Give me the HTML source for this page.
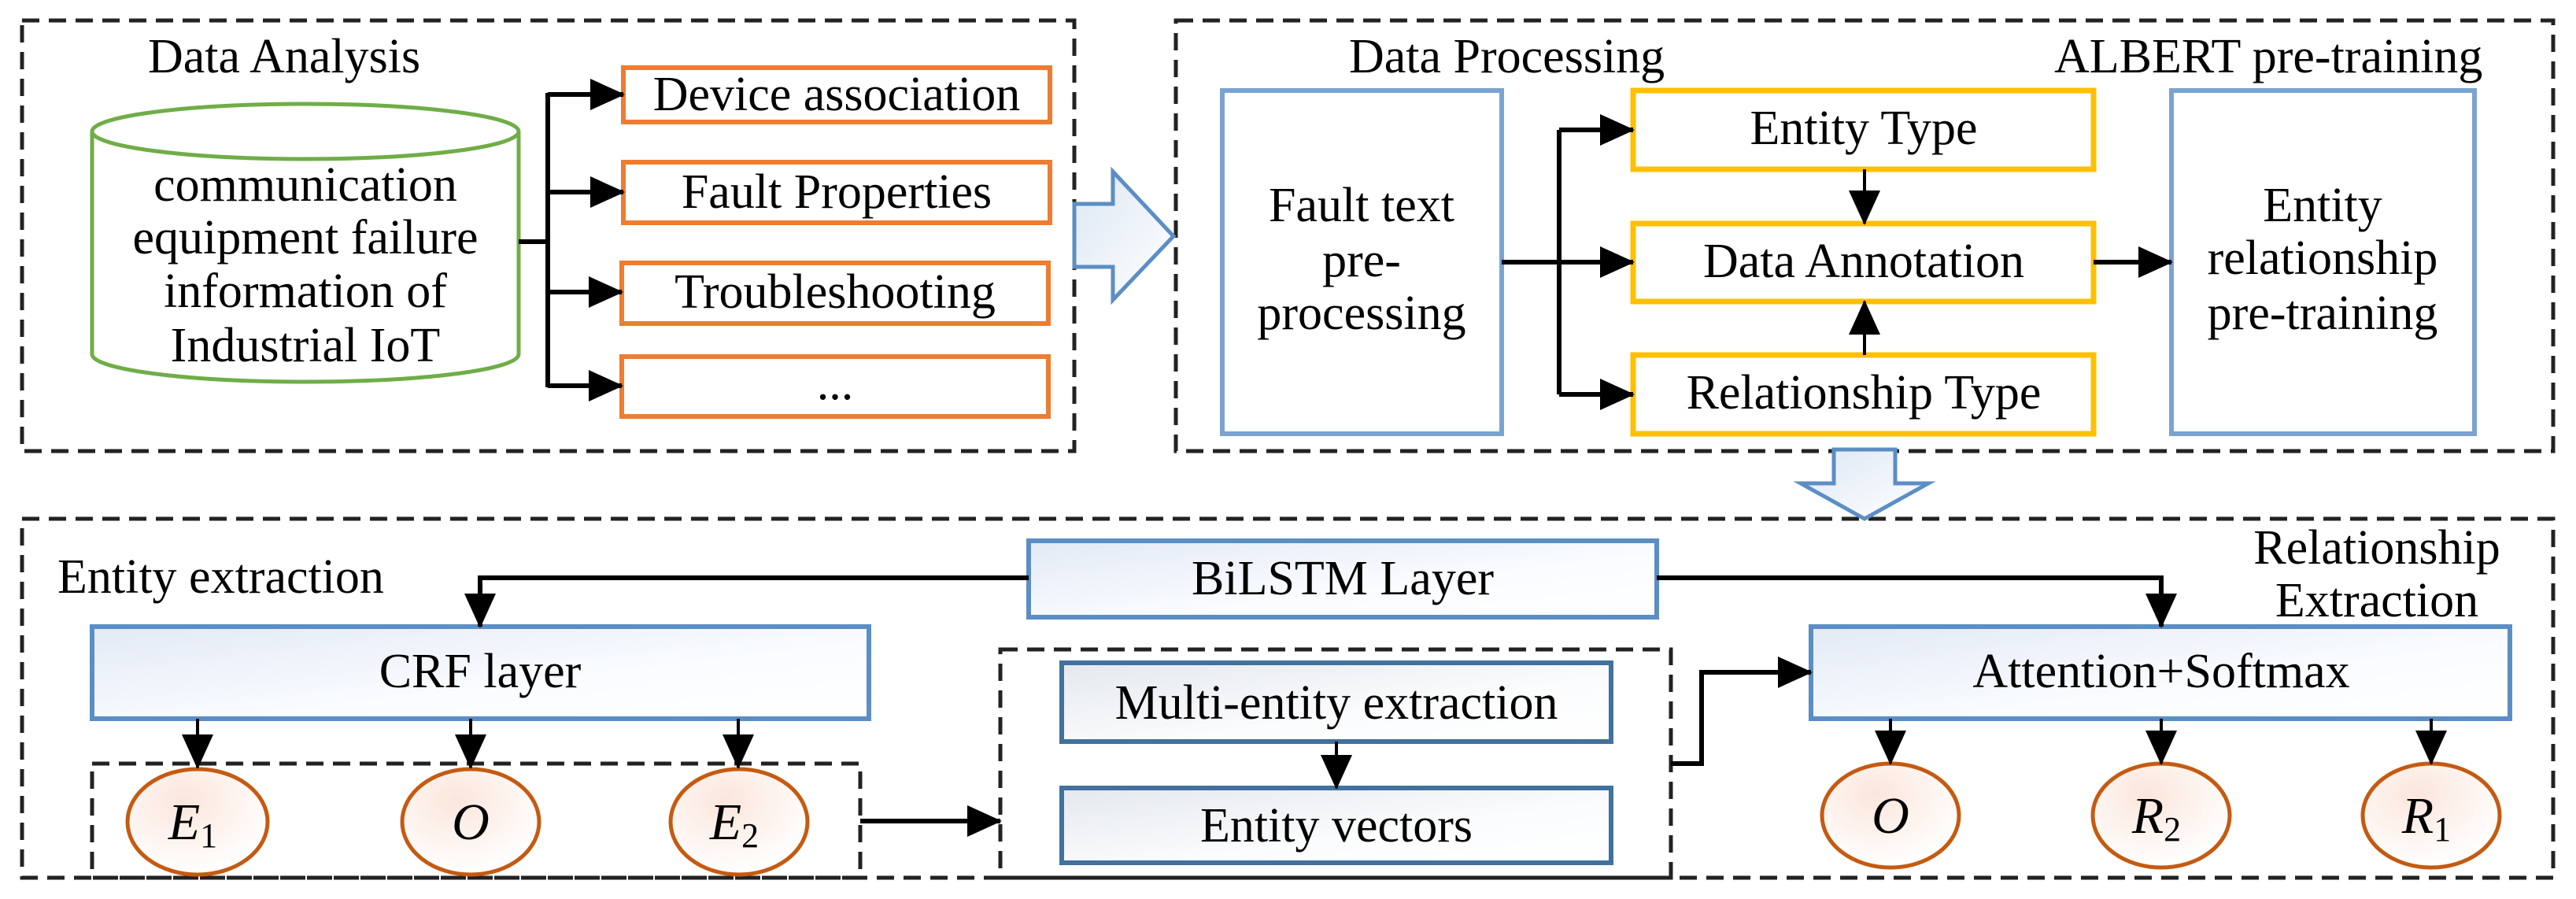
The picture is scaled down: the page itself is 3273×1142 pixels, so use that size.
<!DOCTYPE html>
<html><head><meta charset="utf-8"><style>
html,body{margin:0;padding:0;background:#fff}
svg{display:block}
svg text{font-family:"Liberation Serif","Times New Roman","DejaVu Serif",serif;fill:#000}
</style></head><body>
<svg width="3273" height="1142" viewBox="0 0 3273 1142" xmlns="http://www.w3.org/2000/svg" font-family="'Liberation Serif', 'Times New Roman', 'DejaVu Serif', serif">
<defs>
<marker id="a" markerWidth="44" markerHeight="44" refX="42" refY="22" orient="auto" markerUnits="userSpaceOnUse">
<path d="M0,2 L44,22 L0,42 z" fill="#000"/>
</marker>
<linearGradient id="bg" x1="0" y1="0" x2="1" y2="1">
<stop offset="0" stop-color="#e3eaf5"/><stop offset="0.6" stop-color="#fafcff"/><stop offset="1" stop-color="#ffffff"/>
</linearGradient>
<linearGradient id="bg2" x1="0" y1="0" x2="1" y2="1">
<stop offset="0" stop-color="#e4e8ee"/><stop offset="0.6" stop-color="#fbfcfd"/><stop offset="1" stop-color="#fff"/>
</linearGradient>
<radialGradient id="eg" cx="0.4" cy="0.3" r="0.7">
<stop offset="0" stop-color="#fbe6dc"/><stop offset="1" stop-color="#ffffff"/>
</radialGradient>
<linearGradient id="ag" x1="0" y1="0" x2="1" y2="1">
<stop offset="0" stop-color="#dde7f4"/><stop offset="1" stop-color="#ffffff"/>
</linearGradient>
</defs>

<g fill="none" stroke="#222" stroke-width="5" stroke-dasharray="22,12">
<rect x="28" y="26" width="1337" height="547"/>
<rect x="1494" y="26" width="1750" height="547"/>
<rect x="28" y="659" width="3216" height="456"/>
<rect x="117" y="970" width="976" height="145"/>
<rect x="1271" y="825" width="852" height="290"/>
</g>

<text x="188" y="92" font-size="62">Data Analysis</text>
<g stroke="#70ad47" stroke-width="5" fill="#fff">
<path d="M117,167 L117,450 A271,35 0 0 0 659,450 L659,167"/>
<ellipse cx="388" cy="167" rx="271" ry="35"/>
</g>
<g font-size="62" text-anchor="middle">
<text x="388" y="255">communication</text>
<text x="388" y="322">equipment failure</text>
<text x="388" y="390">information of</text>
<text x="388" y="459">Industrial IoT</text>
</g>
<g stroke="#ed7d31" stroke-width="6" fill="#fff">
<rect x="792" y="86" width="542" height="69"/>
<rect x="792" y="206" width="542" height="77"/>
<rect x="790" y="334" width="542" height="77"/>
<rect x="790" y="453" width="542" height="76"/>
</g>
<g font-size="62" text-anchor="middle">
<text x="1063" y="140">Device association</text>
<text x="1063" y="264">Fault Properties</text>
<text x="1061" y="391">Troubleshooting</text>
<text x="1061" y="507">...</text>
</g>
<g stroke="#000" stroke-width="6" fill="none">
<path d="M659,307 H696"/>
<path d="M696,118 V492"/>
<path d="M696,120 H792" marker-end="url(#a)"/>
<path d="M696,244 H792" marker-end="url(#a)"/>
<path d="M696,371 H790" marker-end="url(#a)"/>
<path d="M696,490 H790" marker-end="url(#a)"/>
</g>

<path d="M1365,259 H1414 V218 L1491,300 L1414,381 V339 H1365 z" fill="url(#ag)" stroke="#5b8ec4" stroke-width="5"/>

<text x="1714" y="92" font-size="62">Data Processing</text>
<text x="2610" y="92" font-size="62">ALBERT pre-training</text>
<g stroke="#7aa3d1" stroke-width="6" fill="#fff">
<rect x="1553" y="115" width="355" height="436"/>
<rect x="2759" y="115" width="385" height="436"/>
</g>
<g stroke="#ffc000" stroke-width="7" fill="#fff">
<rect x="2075" y="115" width="585" height="100"/>
<rect x="2075" y="284" width="585" height="99"/>
<rect x="2075" y="451" width="585" height="100"/>
</g>
<g font-size="62" text-anchor="middle">
<text x="1730" y="281">Fault text</text>
<text x="1730" y="351">pre-</text>
<text x="1730" y="418">processing</text>
<text x="2951" y="281">Entity</text>
<text x="2951" y="348">relationship</text>
<text x="2951" y="418">pre-training</text>
<text x="2368" y="183">Entity Type</text>
<text x="2368" y="352">Data Annotation</text>
<text x="2368" y="519">Relationship Type</text>
</g>
<g stroke="#000" stroke-width="6" fill="none">
<path d="M1908,333 H1981"/>
<path d="M1981,165 V501"/>
<path d="M1981,165 H2075" marker-end="url(#a)"/>
<path d="M1981,333 H2075" marker-end="url(#a)"/>
<path d="M1981,501 H2075" marker-end="url(#a)"/>
<path d="M2660,333 H2759" marker-end="url(#a)"/>
<path d="M2369,215 V284" stroke-width="4" marker-end="url(#a)"/>
<path d="M2369,451 V383" stroke-width="4" marker-end="url(#a)"/>
</g>

<path d="M2330,571 H2408 V614 H2450 L2369,659 L2288,614 H2330 z" fill="url(#ag)" stroke="#5b8ec4" stroke-width="5"/>

<text x="73" y="753" font-size="62">Entity extraction</text>
<text x="3020" y="716" font-size="62" text-anchor="middle">Relationship</text>
<text x="3020" y="783" font-size="62" text-anchor="middle">Extraction</text>

<g stroke="#5b8ec4" stroke-width="6">
<rect x="1307" y="687" width="798" height="97" fill="url(#bg)"/>
<rect x="117" y="796" width="987" height="117" fill="url(#bg)"/>
<rect x="2301" y="796" width="888" height="117" fill="url(#bg)"/>
</g>
<g stroke="#41719c" stroke-width="6">
<rect x="1349" y="842" width="698" height="100" fill="url(#bg2)"/>
<rect x="1349" y="1001" width="698" height="95" fill="url(#bg2)"/>
</g>
<g font-size="62" text-anchor="middle">
<text x="1706" y="755">BiLSTM Layer</text>
<text x="610" y="873">CRF layer</text>
<text x="2746" y="873">Attention+Softmax</text>
<text x="1698" y="913">Multi-entity extraction</text>
<text x="1698" y="1069">Entity vectors</text>
</g>

<g stroke="#c55a11" stroke-width="5" fill="url(#eg)">
<ellipse cx="251" cy="1044" rx="89" ry="67"/>
<ellipse cx="598" cy="1044" rx="87" ry="67"/>
<ellipse cx="939" cy="1044" rx="87" ry="67"/>
<ellipse cx="2402" cy="1036" rx="87" ry="66"/>
<ellipse cx="2746" cy="1036" rx="87" ry="66"/>
<ellipse cx="3089" cy="1036" rx="87" ry="66"/>
</g>
<g font-size="66" font-style="italic" text-anchor="middle">
<text x="245" y="1066">E<tspan font-size="44" font-style="normal" dy="10">1</tspan></text>
<text x="598" y="1066">O</text>
<text x="933" y="1066">E<tspan font-size="44" font-style="normal" dy="10">2</tspan></text>
<text x="2402" y="1058">O</text>
<text x="2740" y="1058">R<tspan font-size="44" font-style="normal" dy="10">2</tspan></text>
<text x="3083" y="1058">R<tspan font-size="44" font-style="normal" dy="10">1</tspan></text>
</g>

<g stroke="#000" stroke-width="6" fill="none">
<path d="M1307,734 H610 V796" marker-end="url(#a)"/>
<path d="M2105,734 H2746 V796" marker-end="url(#a)"/>
<path d="M251,913 V975" stroke-width="4" marker-end="url(#a)"/>
<path d="M598,913 V975" stroke-width="4" marker-end="url(#a)"/>
<path d="M938,913 V975" stroke-width="4" marker-end="url(#a)"/>
<path d="M2402,913 V970" stroke-width="4" marker-end="url(#a)"/>
<path d="M2746,913 V970" stroke-width="4" marker-end="url(#a)"/>
<path d="M3089,913 V970" stroke-width="4" marker-end="url(#a)"/>
<path d="M1093,1043 H1271" marker-end="url(#a)"/>
<path d="M1698,942 V1001" stroke-width="4" marker-end="url(#a)"/>
<path d="M2123,970 H2162 V854 H2301" marker-end="url(#a)"/>
</g>
</svg>
</body></html>
